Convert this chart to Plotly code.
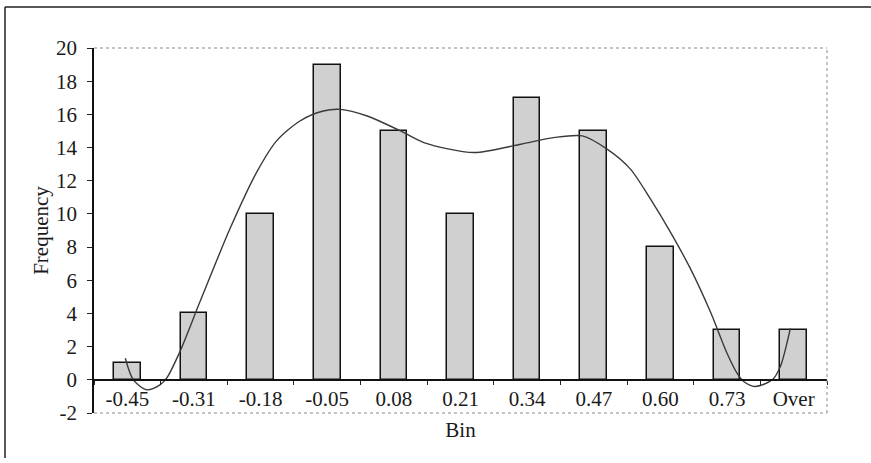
import plotly.graph_objects as go

# ---- data ----
bins = ["-0.45", "-0.31", "-0.18", "-0.05", "0.08", "0.21", "0.34", "0.47", "0.60", "0.73", "Over"]
frequency = [1, 4, 10, 19, 15, 10, 17, 15, 8, 3, 3]

# smoothed curve (x in bin-index units)
curve_x = [-0.03, 0.09, 0.29, 0.49, 0.59, 0.79, 1.09, 1.54, 1.94, 2.24, 2.59, 2.94, 3.2, 3.6,
           4.1, 4.45, 5.2, 5.9, 6.4, 6.83, 7.2, 7.55, 7.85, 8.15, 8.45, 8.75, 9.0, 9.15,
           9.25, 9.42, 9.68, 9.8, 9.95]
curve_y = [1.3, 0.0, -0.6, -0.3, 0.1, 1.7, 4.7, 9.1, 12.5, 14.4, 15.6, 16.2, 16.3, 15.9,
           15.0, 14.3, 13.7, 14.2, 14.6, 14.7, 13.9, 12.7, 10.9, 8.9, 6.7, 4.1, 1.6, 0.4,
           -0.1, -0.4, 0.0, 0.8, 3.1]

y_ticks = list(range(-2, 21, 2))
y_tick_text = [str(v) for v in y_ticks]

FONT = "Liberation Serif"
FS = 21

fig = go.Figure()
fig.add_trace(go.Bar(
    x=bins, y=frequency, width=0.4,
    marker=dict(color="#d0d0d0", line=dict(color="#111111", width=1.5)),
    showlegend=False, hoverinfo="x+y",
))
fig.add_trace(go.Scatter(
    x=curve_x, y=curve_y, xaxis="x2", mode="lines",
    line=dict(color="#3a3a3a", width=1.4, shape="spline", smoothing=0.8),
    showlegend=False,
))

fig.update_layout(
    width=871, height=463,
    margin=dict(l=94, r=44, t=48, b=50),
    paper_bgcolor="white", plot_bgcolor="white",
    font=dict(family=FONT, size=FS, color="#1a1a1a"),
    bargap=0,
    xaxis=dict(
        type="category", tickson="boundaries", ticks="outside", ticklen=4,
        tickcolor="#222", showline=True, linecolor="#111", linewidth=1.5,
        showgrid=False, zeroline=False, anchor="free", position=2 / 22,
        range=[-0.5, 10.5], tickfont=dict(family=FONT, size=FS),
        title=dict(text="Bin", font=dict(family=FONT, size=FS), standoff=12),
    ),
    xaxis2=dict(overlaying="x", range=[-0.5, 10.5], visible=False),
    yaxis=dict(
        range=[-2, 20], tickvals=y_ticks, ticktext=y_tick_text, ticks="outside", ticklen=5,
        tickcolor="#222", showline=True, linecolor="#111", linewidth=1.5,
        showgrid=False, zeroline=False, tickfont=dict(family=FONT, size=FS),
        ticklabelstandoff=6,
        title=dict(text="Frequency", font=dict(family=FONT, size=FS), standoff=2),
    ),
    shapes=[
        # dotted plot-area border (top, right, bottom)
        dict(type="line", xref="paper", yref="paper", x0=0, x1=1, y0=1, y1=1,
             line=dict(color="#888", width=1, dash="dot")),
        dict(type="line", xref="paper", yref="paper", x0=1, x1=1, y0=0, y1=1,
             line=dict(color="#888", width=1, dash="dot")),
        dict(type="line", xref="paper", yref="paper", x0=0, x1=1, y0=0, y1=0,
             line=dict(color="#888", width=1, dash="dot")),
        # outer chart frame (top and left edges)
        dict(type="line", xref="paper", yref="paper", x0=-89 / 733, x1=1 + 44 / 733,
             y0=1 + 41 / 365, y1=1 + 41 / 365, line=dict(color="#222", width=1.5)),
        dict(type="line", xref="paper", yref="paper", x0=-89 / 733, x1=-89 / 733,
             y0=1 + 41 / 365, y1=-45 / 365, line=dict(color="#222", width=1.5)),
    ],
)

fig.write_html("out.html")
